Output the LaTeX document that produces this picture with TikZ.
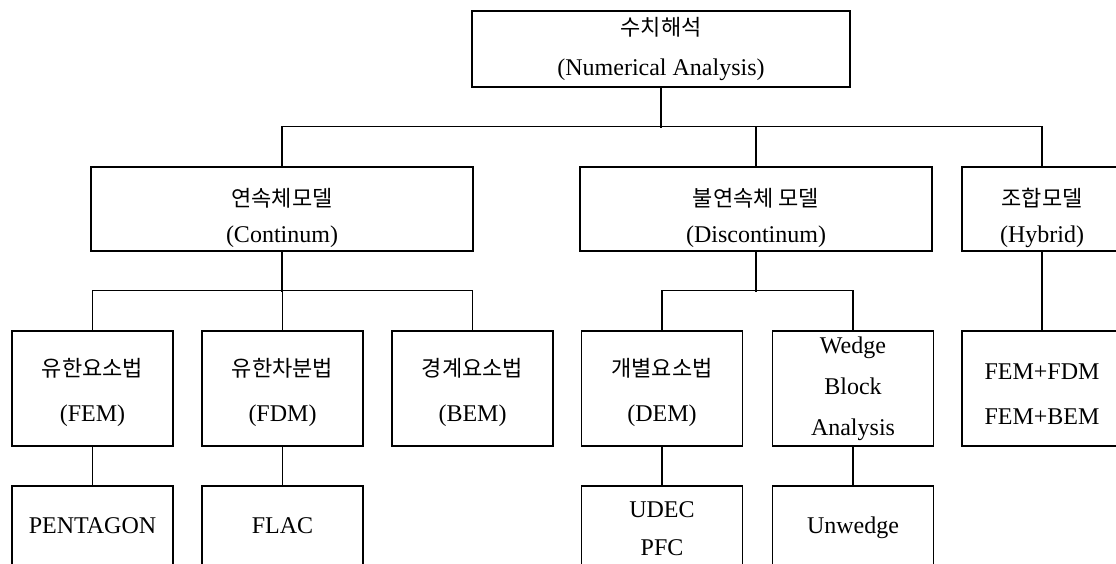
\documentclass[tikz,border=0pt]{standalone}
\usepackage{fontspec}
\setmainfont{Liberation Serif}
\newfontfamily\krfont{Noto Sans CJK KR}
\newcommand{\kr}[1]{{\krfont\fontsize{22}{22}\selectfont #1}}
\newcommand{\lowtwo}{\rule{0pt}{36pt}}
\newcommand{\lowthree}{\rule{0pt}{27pt}}

\begin{document}
\begin{tikzpicture}[x=1pt,y=-1pt,line width=1.2pt,
    box/.style={draw,line width=1.2pt,align=center,inner sep=0pt,minimum width=161pt,minimum height=115pt},
    lvltwo/.style={box,minimum height=84pt,font=\fontsize{24}{36}\selectfont},
    lvlthree/.style={box,font=\fontsize{24}{45}\selectfont},
    lvlfour/.style={box,font=\fontsize{24}{38}\selectfont}]
  \useasboundingbox (0,0) rectangle (1116,563);
  \clip (0,0) rectangle (1116,563);

  \node[box,minimum width=378pt,minimum height=76pt,font=\fontsize{24}{40}\selectfont] (num) at (661,49)
    {\kr{수치해석}\\(Numerical Analysis)};

  \node[lvltwo,minimum width=382pt] (cont) at (282,209) {\lowtwo\kr{연속체모델}\\(Continum)};
  \node[lvltwo,minimum width=352pt] (disc) at (756,209) {\lowtwo\kr{불연속체 모델}\\(Discontinum)};
  \node[lvltwo,minimum width=160pt] (hyb) at (1042,209) {\lowtwo\kr{조합모델}\\(Hybrid)};

  \node[lvlthree] (fem) at (92.5,388.5) {\lowthree\kr{유한요소법}\\(FEM)};
  \node[lvlthree] (fdm) at (282.5,388.5) {\lowthree\kr{유한차분법}\\(FDM)};
  \node[lvlthree] (bem) at (472.5,388.5) {\lowthree\kr{경계요소법}\\(BEM)};
  \node[lvlthree] (dem) at (662,388.5) {\lowthree\kr{개별요소법}\\(DEM)};
  \node[lvlthree,font=\fontsize{24}{41}\selectfont] (wedge) at (853,388.5) {Wedge\\Block\\Analysis};
  \node[lvlthree,minimum width=160pt] (hfem) at (1042,388.5) {\lowthree FEM+FDM\\FEM+BEM};

  \node[lvlfour,minimum height=80pt] (pent) at (92.5,526) {PENTAGON};
  \node[lvlfour,minimum height=80pt] (flac) at (282.5,526) {FLAC};
  \node[lvlfour,minimum height=86pt] (udec) at (662,529) {UDEC\\PFC};
  \node[lvlfour,minimum height=84pt] (unw) at (853,528) {Unwedge};

  \draw (num.south) -- ++(0,40);
  \draw (cont.north) -- ++(0,-40) -| (hyb.north);
  \draw (disc.north) -- ++(0,-40);
  \draw (cont.south) -- ++(0,40);
  \draw (fem.north) -- ++(0,-40) -| (bem.north);
  \draw (fdm.north) -- ++(0,-40);
  \draw (disc.south) -- ++(0,40);
  \draw (dem.north) -- ++(0,-40) -| (wedge.north);
  \draw (hyb) -- (hfem);
  \foreach \a/\b in {fem/pent,fdm/flac,dem/udec,wedge/unw}
    \draw (\a) -- (\b);
\end{tikzpicture}
\end{document}
